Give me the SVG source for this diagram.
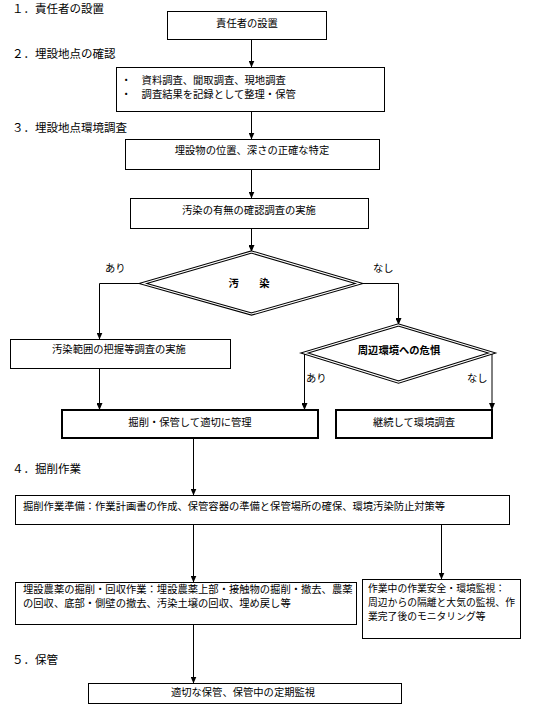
<svg xmlns="http://www.w3.org/2000/svg" width="535" height="708" viewBox="0 0 535 708">
<style>
.box{fill:#fff;stroke:#000;stroke-width:1;shape-rendering:crispEdges}
.thick{stroke-width:2}
.dia{fill:#fff;stroke:#000;stroke-width:3.2;stroke-linejoin:miter}
.dia2{fill:none;stroke:#fff;stroke-width:1.2;stroke-linejoin:miter}
.t{font-family:"Noto Sans CJK JP","Noto Sans CJK SC",sans-serif;font-size:10.3px;fill:#000}
.s{font-size:9.8px}
.h{font-size:11.5px}
.c{text-anchor:middle}
.b{font-weight:bold}
.conn{fill:none;stroke:#000;stroke-width:1;marker-end:url(#arr)}
</style>
<defs>
<marker id="arr" markerUnits="userSpaceOnUse" markerWidth="7" markerHeight="6" refX="7" refY="3" orient="auto">
<path d="M0,0 L7,3 L0,6 z" fill="#000"/>
</marker>
</defs>
<g id="headings">
<text class="t h" x="12" y="12.5">１．責任者の設置</text>
<text class="t h" x="12" y="57.5">２．埋設地点の確認</text>
<text class="t h" x="12" y="131.5">３．埋設地点環境調査</text>
<text class="t h" x="12" y="472.5">４．掘削作業</text>
<text class="t h" x="12" y="663.5">５．保管</text>
</g>
<g id="connectors">
<path class="conn" d="M251.5,39.5 V67.5"/>
<path class="conn" d="M251.5,111.5 V139.5"/>
<path class="conn" d="M251.5,169.5 V198.5"/>
<path class="conn" d="M251.5,228.5 V252"/>
<path class="conn" d="M143,283.5 H99.5 V339.5"/>
<path class="conn" d="M359,283.5 H398.5 V325"/>
<path class="conn" d="M99.5,368.5 V410"/>
<path class="conn" d="M304.5,353 V410"/>
<path class="conn" d="M492,353 V410"/>
<path class="conn" d="M193.5,438 V495.5"/>
<path class="conn" d="M193.5,524.5 V582.5"/>
<path class="conn" d="M441.5,524.5 V579.5"/>
<path class="conn" d="M193.5,624.5 V683.5"/>
<text class="t" x="105" y="272">あり</text>
<text class="t" x="373" y="272">なし</text>
<text class="t" x="306" y="382">あり</text>
<text class="t" x="467" y="382">なし</text>
</g>
<g id="n1">
<rect class="box" x="167.5" y="11.5" width="159" height="28"/>
<text class="t c" x="247" y="27">責任者の設置</text>
</g>
<g id="n2">
<rect class="box" x="116.5" y="67.5" width="268" height="44"/>
<text class="t" x="121" y="83.5">・　資料調査、聞取調査、現地調査</text>
<text class="t" x="121" y="97.5">・　調査結果を記録として整理・保管</text>
</g>
<g id="n3">
<rect class="box" x="125.5" y="139.5" width="254" height="30"/>
<text class="t c" x="252" y="154">埋設物の位置、深さの正確な特定</text>
</g>
<g id="n4">
<rect class="box" x="130.5" y="198.5" width="238" height="30"/>
<text class="t c" x="249" y="213.5">汚染の有無の確認調査の実施</text>
</g>
<g id="d1">
<polygon class="dia" points="251.5,252 359,283.5 251.5,314 143,283.5"/>
<polygon class="dia2" points="251.5,252 359,283.5 251.5,314 143,283.5"/>
<text class="t c b" x="249" y="287">汚　　染</text>
</g>
<g id="n5">
<rect class="box" x="10.5" y="339.5" width="220" height="29"/>
<text class="t c" x="119" y="353">汚染範囲の把握等調査の実施</text>
</g>
<g id="d2">
<polygon class="dia" points="398.5,325 492,353 398.5,382 304.5,353"/>
<polygon class="dia2" points="398.5,325 492,353 398.5,382 304.5,353"/>
<text class="t c b" x="399" y="354">周辺環境への危惧</text>
</g>
<g id="n6">
<rect class="box thick" x="62" y="410" width="256" height="28"/>
<text class="t c" x="190" y="426">掘削・保管して適切に管理</text>
</g>
<g id="n7">
<rect class="box thick" x="336" y="410" width="156" height="28"/>
<text class="t c" x="414" y="426">継続して環境調査</text>
</g>
<g id="n8">
<rect class="box" x="15.5" y="495.5" width="494" height="29"/>
<text class="t" x="23" y="510">掘削作業準備：作業計画書の作成、保管容器の準備と保管場所の確保、環境汚染防止対策等</text>
</g>
<g id="n9">
<rect class="box" x="15.5" y="582.5" width="341" height="42"/>
<text class="t" x="23" y="593">埋設農薬の掘削・回収作業：埋設農薬上部・接触物の掘削・撤去、農薬</text>
<text class="t" x="23" y="607">の回収、底部・側壁の撤去、汚染土壌の回収、埋め戻し等</text>
</g>
<g id="n10">
<rect class="box" x="362.5" y="579.5" width="158" height="59"/>
<text class="t s" x="368" y="592">作業中の作業安全・環境監視：</text>
<text class="t s" x="368" y="606">周辺からの隔離と大気の監視、作</text>
<text class="t s" x="368" y="620">業完了後のモニタリング等</text>
</g>
<g id="n11">
<rect class="box" x="88.5" y="683.5" width="313" height="20"/>
<text class="t c" x="243" y="696">適切な保管、保管中の定期監視</text>
</g>
</svg>
